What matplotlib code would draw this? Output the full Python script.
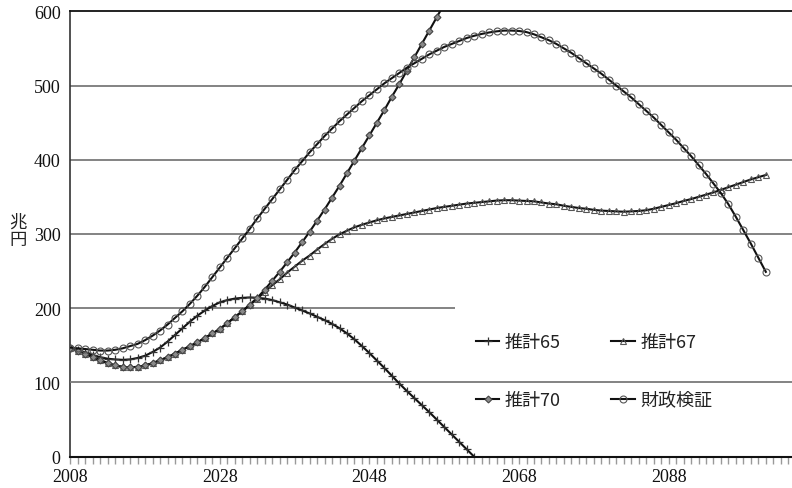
import numpy as np
import matplotlib
matplotlib.use("Agg")
import matplotlib.pyplot as plt
from matplotlib.patches import Rectangle
from matplotlib.ticker import MultipleLocator, FixedLocator

# ---------------- data ----------------
start_year = 2008

zaisei_kensho = [  # 財政検証 2008-2101
    147, 146, 145, 144, 143, 143, 144, 146, 149, 152,
    157, 163, 170, 178, 187, 196, 206, 217, 229, 242,
    255, 268, 281, 294, 307, 321, 334, 347, 360, 373,
    386, 398, 410, 421, 432, 442, 452, 461, 470, 479,
    487, 495, 503, 510, 517, 524, 530, 536, 542, 547,
    552, 556, 560, 564, 567, 569.5, 571.5, 573, 574, 574,
    573.5, 572, 569, 565, 561, 556, 550, 544, 537, 530,
    523, 516, 508, 500, 492, 484, 475, 466, 457, 447,
    437, 427, 416, 405, 393, 381, 368, 355, 340, 323,
    305, 287, 268, 249,
]

early_67_70 = [  # shared part of 推計67 / 推計70, 2008-2030
    147, 143, 139, 134, 130, 126, 123, 121, 120.5, 121,
    123, 126, 130, 134, 139, 144, 149, 154, 160, 166,
    172, 180, 188,
]

suikei70_late = [  # 推計70 2031-2058
    196, 205, 214, 225, 237, 249, 262, 275, 289, 303,
    318, 333, 349, 365, 382, 399, 416, 433, 450, 467,
    485, 502, 520, 538, 556, 574, 592, 610,
]

suikei67_late = [  # 推計67 2031-2101
    196, 204, 213, 222, 231, 239, 248, 256, 264, 271,
    279, 286.5, 293.5, 299.5, 304.5, 309, 312.5, 315.5, 318.5, 321,
    323, 325, 327, 329, 331, 333, 335, 336.5, 338, 339.5,
    341, 342, 343, 344, 345, 345.5, 345.5, 345, 344.5, 344,
    342.5, 341, 340, 338, 336.5, 335, 334, 332.5, 331.5, 331,
    330.5, 330, 330.5, 331, 332, 334, 336.5, 339, 341.5, 344.5,
    347, 350, 353, 356, 359.5, 363, 366.5, 370, 373.5, 376.5,
    379.5,
]

suikei65 = [  # 推計65 2008-2062
    147, 144, 140.5, 137, 134, 132, 131, 130.5, 131, 133,
    136, 141, 147, 155, 164, 173, 182, 190, 197, 203,
    208, 211, 213, 214, 214.5, 214, 213, 211, 208, 205,
    201, 197, 193, 188.5, 184, 179, 173, 166, 158, 149,
    139.5, 129.5, 119.5, 109, 98.5, 88.5, 79, 69.5, 60, 50,
    40, 30, 20, 10, 0,
]

suikei67 = early_67_70 + suikei67_late
suikei70 = early_67_70 + suikei70_late

series_labels = ["推計65", "推計67", "推計70", "財政検証"]
y_ticks = [0, 100, 200, 300, 400, 500, 600]
x_tick_labels = [2008, 2028, 2048, 2068, 2088]


def years_for(values):
    return np.arange(start_year, start_year + len(values))


# ---------------- figure ----------------
W, H = 792, 489
fig = plt.figure(figsize=(W / 100, H / 100), dpi=100)
ax_left, ax_right = 70.3 / W, 1.0
ax_bottom, ax_top = 1 - 457.7 / H, 1 - 12.3 / H
ax = fig.add_axes([ax_left, ax_bottom, ax_right - ax_left, ax_top - ax_bottom])

ax.set_xlim(2008, 2104.5)
ax.set_ylim(0, 600)

# grid lines
for yv in y_ticks[1:-1]:
    ax.axhline(yv, color="#7a7a7a", lw=1.3, zorder=1 if yv != 100 else 6)

# white legend area covering the grid
ax.add_patch(Rectangle((455 / W, 1 - 420 / H), (W - 455) / W, 120 / H,
                       transform=fig.transFigure, facecolor="white",
                       edgecolor="none", zorder=4))

line_kw = dict(color="#111111", lw=1.5, zorder=7, clip_on=True)
mk_edge = "#555555"
l65, = ax.plot(years_for(suikei65), suikei65, marker="+", ms=6, mew=0.9,
               mec="#333333", label=series_labels[0], **line_kw)
l67, = ax.plot(years_for(suikei67), suikei67, marker="^", ms=5, mew=0.8,
               mec=mk_edge, mfc="none", label=series_labels[1], **line_kw)
l70, = ax.plot(years_for(suikei70), suikei70, marker="D", ms=3.5, mew=0.8,
               mec="#444444", mfc="#8a8a8a", label=series_labels[2], **line_kw)
lzk, = ax.plot(years_for(zaisei_kensho), zaisei_kensho, marker="o", ms=5,
               mew=0.8, mec=mk_edge, mfc="none", label=series_labels[3], **line_kw)

# spines
ax.spines["right"].set_visible(False)
ax.spines["top"].set_color("#111111")
ax.spines["top"].set_linewidth(1.3)
ax.spines["bottom"].set_color("#111111")
ax.spines["bottom"].set_linewidth(1.5)
ax.spines["left"].set_color("#333333")
ax.spines["left"].set_linewidth(1.2)
ax.spines["bottom"].set_zorder(8)

# ticks
ax.yaxis.set_major_locator(FixedLocator(y_ticks))
ax.tick_params(axis="y", length=0, pad=7)
ax.xaxis.set_major_locator(FixedLocator(x_tick_labels))
ax.xaxis.set_minor_locator(MultipleLocator(1))
ax.tick_params(axis="x", which="both", direction="out", length=5,
               color="#9a9a9a", width=1.0, pad=3)
ax.set_xticklabels([str(v) for v in x_tick_labels])

for lab in ax.get_xticklabels() + ax.get_yticklabels():
    lab.set_fontfamily("Liberation Serif")
    lab.set_fontsize(13)
    lab.set_color("#111111")

# y-axis unit label (vertical stacked)
fig.text(18 / W, 1 - 231 / H, "兆\n円", ha="center", va="center",
         fontsize=12.5, family=["Noto Sans CJK JP", "DejaVu Sans"],
         linespacing=0.95, color="#222222")

# legend (column-major fill -> rows: 65/67, 70/財政検証)
leg = fig.legend(handles=[l65, l70, l67, lzk],
                 labels=[series_labels[0], series_labels[2],
                         series_labels[1], series_labels[3]],
                 ncol=2, loc="center",
                 bbox_to_anchor=(594 / W, 1 - 372 / H),
                 frameon=False, handlelength=1.3, handletextpad=0.3,
                 columnspacing=2.8, labelspacing=2.2,
                 prop={"family": ["Noto Sans CJK JP", "DejaVu Sans"], "size": 13})
for t in leg.get_texts():
    t.set_color("#222222")
leg.set_zorder(9)

fig.savefig("out.png", dpi=100, facecolor="white")
